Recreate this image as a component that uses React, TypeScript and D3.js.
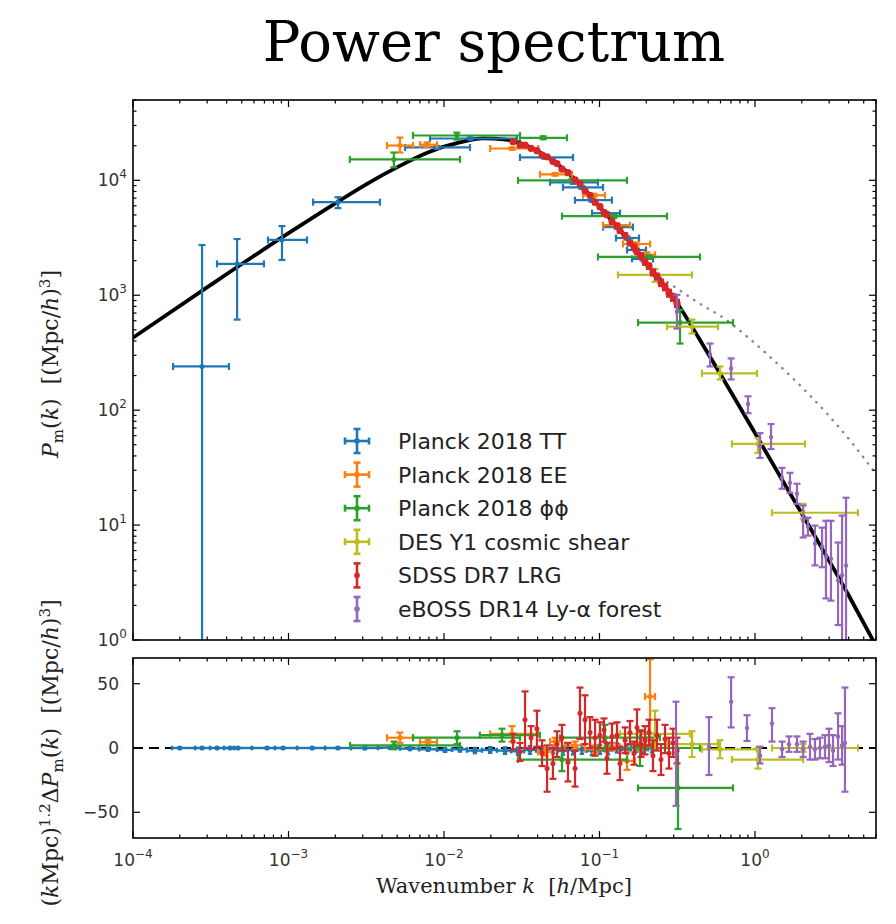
import React from "react";
import * as d3 from "d3";

// ================= data =================
// theory curve: linear matter power spectrum (k in h/Mpc, P in (Mpc/h)^3)
const curveK = [1e-4, 3.16e-4, 1e-3, 2e-3, 3.16e-3, 5.01e-3, 7.94e-3, 1.26e-2, 1.78e-2, 2.51e-2, 3.55e-2, 5.01e-2, 7.08e-2, 0.1, 0.141, 0.2, 0.316, 0.5, 1, 2, 4, 6];
const curveP = [427, 1230, 3467, 6310, 9230, 13030, 17580, 21380, 23170, 22650, 19500, 14790, 10000, 5890, 3467, 1905, 851, 309, 63.1, 12.6, 2.45, 0.89];
// non-linear curve (dotted grey)
const nonlinK = [0.2239, 0.2838, 0.4426, 0.631, 0.889, 1.259, 1.754, 2.904, 4.266, 6.03];
const nonlinP = [1549, 1259, 843, 631, 437, 288, 189, 93.3, 50.8, 27.5];

// [k, kLo, kHi, P, PLo, PHi]
const planckTT = [
  [2.78e-4, 1.81e-4, 4.14e-4, 240, 0.5, 2735],
  [4.67e-4, 3.47e-4, 6.95e-4, 1875, 614, 3085],
  [9.08e-4, 7.38e-4, 1.315e-3, 3027, 2028, 4000],
  [2.08e-3, 1.44e-3, 3.87e-3, 6457, 5728, 7129],
  [9.02e-3, 5.61e-3, 1.47e-2, 19320, 18750, 19900],
  [1.47e-2, 8.13e-3, 2.94e-2, 23120, 22650, 23600],
  [4.47e-2, 3.08e-2, 6.76e-2, 15810, 15400, 16230],
  [6.76e-2, 4.81e-2, 9.77e-2, 9616, 9330, 9900],
  [7.71e-2, 5.82e-2, 0.1054, 8690, 8430, 8950],
  [8.95e-2, 6.95e-2, 0.1202, 6714, 6510, 6920],
  [0.1084, 8.95e-2, 0.1355, 5176, 5020, 5330],
  [0.1297, 0.1054, 0.1641, 3917, 3800, 4035],
  [0.1503, 0.1276, 0.1795, 3148, 3050, 3245],
  [0.1718, 0.1503, 0.1991, 2477, 2400, 2555],
  [0.1905, 0.1618, 0.2208, 2070, 2005, 2135],
];
const planckEE = [
  [5.21e-3, 4.30e-3, 6.32e-3, 20090, 17460, 23550],
  [7.78e-3, 7.02e-3, 9.02e-3, 20420, 19500, 21400],
  [2.74e-2, 1.98e-2, 4.03e-2, 18920, 18500, 19350],
  [5.18e-2, 4.14e-2, 6.65e-2, 11270, 10980, 11560],
  [9.23e-2, 7.83e-2, 0.1084, 7413, 7200, 7630],
  [0.1297, 0.1054, 0.157, 4074, 3950, 4200],
  [0.1718, 0.1416, 0.2113, 2793, 2700, 2890],
  [0.2023, 0.182, 0.2275, 2244, 2130, 2360],
];
const planckPhi = [
  [4.76e-3, 2.48e-3, 1.267e-2, 15210, 12970, 17460],
  [1.21e-2, 6.32e-3, 3.08e-2, 24550, 22650, 26000],
  [4.34e-2, 3.08e-2, 6.18e-2, 23440, 22750, 24150],
  [6.65e-2, 2.99e-2, 0.1503, 10000, 9700, 10300],
  [0.1239, 5.74e-2, 0.2716, 4875, 4730, 5020],
  [0.208, 9.77e-2, 0.4426, 2153, 2090, 2220],
  [0.3296, 0.177, 0.7222, 578, 380, 748],
];
const desY1 = [
  [0.2275, 0.1315, 0.3936, 1503, 1309, 1694],
  [0.3936, 0.2716, 0.578, 533, 465, 614],
  [0.5957, 0.456, 1.03, 209, 185, 240],
  [1.045, 0.711, 2.097, 50.8, 42.5, 57.3],
  [2.04, 1.286, 4.59, 12.8, 11.4, 15.3],
];
// [k, P, PLo, PHi]
const ebossLya = [
  [0.3148, 719, 513, 1009],
  [0.514, 305, 240, 380],
  [0.702, 231, 185, 282],
  [0.902, 113, 94.2, 132],
  [1.077, 48.8, 38.4, 63.1],
  [1.268, 58.3, 45.9, 75.7],
  [1.493, 25.8, 20.7, 31.5],
  [1.679, 23.3, 19.1, 28.5],
  [1.862, 18.75, 15.3, 22.9],
  [2.04, 10.9, 7.8, 14.8],
  [2.19, 9.7, 8.1, 11.6],
  [2.43, 6.9, 4.46, 9.9],
  [2.70, 6.5, 4.3, 9.5],
  [2.86, 5.3, 2.3, 10.9],
  [3.08, 5.1, 2.2, 10.9],
  [3.42, 3.3, 1.35, 7.05],
  [3.63, 3.66, 0.95, 12.1],
  [3.85, 4.46, 0.5, 17.3],
];
const sdssK = [0.0278, 0.0308, 0.0332, 0.0363, 0.0396, 0.0427, 0.0460, 0.0502, 0.0533, 0.0574, 0.0627, 0.0696, 0.0749, 0.0807, 0.0869, 0.0936, 0.1007, 0.1069, 0.1117, 0.1203, 0.1296, 0.1354, 0.1459, 0.1571, 0.1667, 0.1742, 0.1849, 0.1962, 0.2081, 0.2208, 0.2343, 0.2486, 0.2638, 0.2798, 0.2970, 0.3151];
const sdssP = [21700, 20300, 20300, 19000, 18100, 16600, 16000, 14600, 14000, 12500, 11650, 10100, 9300, 8100, 7400, 6450, 5900, 5250, 5030, 4390, 4010, 3650, 3320, 2860, 2630, 2390, 2200, 1945, 1790, 1580, 1455, 1285, 1180, 1045, 960, 850];
const sdssPErr = [0.02, 0.02, 0.02, 0.02, 0.02, 0.02, 0.025, 0.025, 0.025, 0.025, 0.03, 0.03, 0.03, 0.03, 0.03, 0.035, 0.035, 0.035, 0.035, 0.04, 0.04, 0.04, 0.04, 0.045, 0.045, 0.045, 0.05, 0.05, 0.05, 0.055, 0.055, 0.06, 0.06, 0.065, 0.065, 0.07];

// ---- residual panel: (k Mpc)^1.2 ΔP ----
const ttResK = [2.0e-4, 2.78e-4, 3.47e-4, 4.21e-4, 4.73e-4, 7.27e-4, 9.22e-4, 1.42e-3, 2.08e-3, 3.10e-3, 4.50e-3, 6.04e-3, 7.89e-3, 1.015e-2, 1.267e-2, 1.58e-2, 1.98e-2, 2.47e-2, 2.99e-2, 3.57e-2, 4.27e-2, 5.02e-2, 5.82e-2, 6.76e-2, 7.71e-2, 8.95e-2, 0.1007, 0.1134, 0.1296, 0.1503, 0.1718, 0.1905, 0.2177];
const ttResEdges = [1.78e-4, 2.51e-4, 3.13e-4, 3.85e-4, 4.46e-4, 5.82e-4, 8.19e-4, 1.135e-3, 1.718e-3, 2.52e-3, 3.76e-3, 5.21e-3, 6.91e-3, 9.02e-3, 1.126e-2, 1.406e-2, 1.755e-2, 2.19e-2, 2.70e-2, 3.27e-2, 3.91e-2, 4.60e-2, 5.41e-2, 6.27e-2, 7.17e-2, 8.31e-2, 9.49e-2, 0.1069, 0.1203, 0.1395, 0.1594, 0.1822, 0.2051, 0.2308];
const ttResR = [0, 0, 0, 0, 0, 0, 0, 0, 0, 0, 0.3, -0.5, -1, -1.5, -1, -2, -1.5, -2, -2.5, -1.5, -2, -1, -2, -1.5, -1, -2, -1, -1.5, 0, -1, 0.5, -1, 0];
const ttResErr = [0.4, 0.4, 0.4, 0.4, 0.5, 0.5, 0.5, 0.6, 0.6, 0.8, 0.8, 1, 1.2, 1.5, 1.8, 2, 2.2, 2.5, 2.8, 3, 3, 3.2, 3.2, 3.5, 3.5, 3.5, 3.5, 3.5, 3.5, 3.5, 3.5, 3.5, 3.5];
// [k, kLo, kHi, r, errLo, errHi]
const eeRes = [
  [5.21e-3, 4.30e-3, 6.32e-3, 8, 4, 4],
  [7.89e-3, 7.02e-3, 9.02e-3, 4.5, 2, 2],
  [2.74e-2, 1.98e-2, 4.02e-2, 11, 6, 6],
  [4.46e-2, 4.02e-2, 4.95e-2, -3, 3, 3],
  [5.18e-2, 4.81e-2, 5.74e-2, 5, 3, 3],
  [6.96e-2, 6.00e-2, 8.07e-2, 2, 3, 3],
  [9.36e-2, 8.07e-2, 0.1085, -1, 3, 3],
  [0.1203, 0.1085, 0.1354, 1, 3, 3],
  [0.1503, 0.1354, 0.1692, -10, 7, 7],
  [0.1822, 0.1667, 0.1991, 3, 5, 5],
  [0.2113, 0.1962, 0.2275, 40, 38, 29],
];
const phiRes = [
  [4.77e-3, 2.49e-3, 1.267e-2, 2, 3, 3],
  [1.213e-2, 6.32e-3, 3.08e-2, 8, 5, 5],
  [2.36e-2, 1.70e-2, 4.14e-2, 10, 5, 5],
  [5.74e-2, 2.99e-2, 0.1503, -9, 9, 9],
  [0.1085, 5.57e-2, 0.245, 8, 10, 10],
  [0.1822, 9.77e-2, 0.4426, 0, 14, 14],
  [0.3198, 0.1769, 0.7222, -31, 32, 31],
];
const desRes = [
  [0.2275, 0.1355, 0.382, 11, 12, 18],
  [0.3936, 0.2716, 0.578, 3, 10, 10],
  [0.5957, 0.456, 1.03, -1, 7, 7],
  [1.045, 0.711, 2.04, -9, 7, 9],
  [2.04, 1.286, 4.59, 0, 3, 3],
];
const sdssResR = [5, -3, 22, 8, 15, -4, -16, -12, 3, 8, -11, -16, 27, 22, 12, 8, 10, 14, -8, 9, 10, -12, 6, 12, -4, 16, 3, 6, 12, -6, 10, -9, 7, -4, 4, -2];
const sdssResErr = [6, 7, 22, 9, 14, 10, 18, 12, 10, 10, 15, 14, 20, 19, 12, 14, 10, 9, 12, 10, 10, 13, 10, 9, 9, 14, 10, 11, 10, 12, 12, 12, 11, 12, 11, 10];
// [k, r, errLo, errHi]
const ebossRes = [
  [0.3105, -4, 41, 40],
  [0.5058, 1, 22, 23],
  [0.702, 36, 20, 19],
  [0.888, 15.5, 10, 10],
  [1.077, -6, 6, 7],
  [1.286, 19, 14, 12],
  [1.493, -1, 6, 6],
  [1.654, 3, 6, 6],
  [1.862, 3, 6, 6],
  [2.04, -1, 6, 6],
  [2.258, 1, 10, 10],
  [2.43, -1, 8, 8],
  [2.618, 0, 8, 8],
  [2.818, 1, 9, 9],
  [2.99, 2, 13, 13],
  [3.175, -2, 12, 12],
  [3.42, 9, 18, 18],
  [3.63, 2, 15, 15],
  [3.79, 4, 38, 43],
];

const seriesLabels = ["Planck 2018 TT", "Planck 2018 EE", "Planck 2018 \u03d5\u03d5", "DES Y1 cosmic shear", "SDSS DR7 LRG", "eBOSS DR14 Ly-\u03b1 forest"];
const seriesColors = ["#1f77b4", "#ff7f0e", "#2ca02c", "#bcbd22", "#d62728", "#9467bd"];
const xTickExps = [-4, -3, -2, -1, 0];
const yTopExps = [0, 1, 2, 3, 4];
const yResTicks = [-50, 0, 50];

// ================= layout =================
const W = 896, H = 924;
const L = 133, R = 876, T1 = 100, B1 = 640, T2 = 658, B2 = 838;
const SANS = "'DejaVu Sans', sans-serif";
const SERIF = "'DejaVu Serif', serif";

function EB({ px, py, x0, x1, y0, y1, color, cap = 3.5, lw = 2.2, r = 2.5 }: any) {
  return (
    <g stroke={color} strokeWidth={lw} fill={color}>
      {x0 != null && (
        <>
          <line x1={x0} x2={x1} y1={py} y2={py} />
          <line x1={x0} x2={x0} y1={py - cap} y2={py + cap} />
          <line x1={x1} x2={x1} y1={py - cap} y2={py + cap} />
        </>
      )}
      {y0 != null && (
        <>
          <line x1={px} x2={px} y1={y0} y2={y1} />
          <line x1={px - cap} x2={px + cap} y1={y0} y2={y0} />
          <line x1={px - cap} x2={px + cap} y1={y1} y2={y1} />
        </>
      )}
      {r > 0 && <circle cx={px} cy={py} r={r} stroke="none" />}
    </g>
  );
}

function isMajorLog(v: number) {
  const l = Math.log10(v);
  return Math.abs(l - Math.round(l)) < 1e-6;
}

export default function App() {
  const x = d3.scaleLog().domain([1e-4, 6]).range([L, R]);
  const y = d3.scaleLog().domain([1, 5e4]).range([B1, T1]);
  const yr = d3.scaleLinear().domain([-70, 70]).range([B2, T2]);

  const line = d3
    .line<number[]>()
    .x((d) => x(d[0]))
    .y((d) => y(d[1]))
    .curve(d3.curveMonotoneX);
  const curvePath = line(curveK.map((k, i) => [k, curveP[i]])) || "";
  const nonlinPath = line(nonlinK.map((k, i) => [k, nonlinP[i]])) || "";

  const xTicks = x.ticks().filter((v) => v >= 1e-4 && v <= 6);
  const yTicks = y.ticks().filter((v) => v >= 1 && v <= 5e4);

  const topSeries = [planckTT, planckEE, planckPhi, desY1];
  const resSeries = [eeRes, phiRes, desRes];

  const xTickMarks = (top: number, bottom: number) =>
    xTicks.map((v, i) => {
      const len = isMajorLog(v) ? 7 : 3.5;
      const px = x(v);
      return (
        <g key={i} stroke="#000" strokeWidth={1.2}>
          <line x1={px} x2={px} y1={bottom} y2={bottom - len} />
          <line x1={px} x2={px} y1={top} y2={top + len} />
        </g>
      );
    });

  return (
    <svg
      width={W}
      height={H}
      viewBox={`0 0 ${W} ${H}`}
      style={{ position: "absolute", left: 0, top: 0, background: "#fff" }}
    >
      <defs>
        <clipPath id="clipTop">
          <rect x={L} y={T1} width={R - L} height={B1 - T1} />
        </clipPath>
        <clipPath id="clipRes">
          <rect x={L} y={T2} width={R - L} height={B2 - T2} />
        </clipPath>
      </defs>
      <rect x={0} y={0} width={W} height={H} fill="#fff" />

      {/* Title */}
      <text x={494} y={61} textAnchor="middle" fontFamily={SERIF} fontSize={56} fill="#000">
        Power spectrum
      </text>

      {/* ============ top panel ============ */}
      <g clipPath="url(#clipTop)">
        <path d={nonlinPath} fill="none" stroke="#888" strokeWidth={2.4} strokeDasharray="0.5 7.5" strokeLinecap="round" />
        <path d={curvePath} fill="none" stroke="#000" strokeWidth={3.8} />
        {topSeries.map((s, si) =>
          s.map((d, i) => (
            <EB
              key={`t${si}-${i}`}
              px={x(d[0])}
              py={y(d[3])}
              x0={x(d[1])}
              x1={x(d[2])}
              y0={y(d[4])}
              y1={y(d[5])}
              color={seriesColors[si]}
            />
          ))
        )}
        {sdssK.map((k, i) => (
          <EB
            key={`sd${i}`}
            px={x(k)}
            py={y(sdssP[i])}
            y0={y(sdssP[i] * (1 - sdssPErr[i]))}
            y1={y(sdssP[i] * (1 + sdssPErr[i]))}
            color={seriesColors[4]}
            cap={3}
            lw={2.6}
            r={3.6}
          />
        ))}
        {ebossLya.map((d, i) => (
          <EB
            key={`eb${i}`}
            px={x(d[0])}
            py={y(d[1])}
            y0={y(d[2])}
            y1={y(d[3])}
            color={seriesColors[5]}
            r={2.2}
          />
        ))}
      </g>

      {/* top panel axes */}
      <rect x={L} y={T1} width={R - L} height={B1 - T1} fill="none" stroke="#000" strokeWidth={1.6} />
      {xTickMarks(T1, B1)}
      {yTicks.map((v, i) => {
        const len = isMajorLog(v) ? 7 : 3.5;
        const py = y(v);
        return (
          <g key={`yt${i}`} stroke="#000" strokeWidth={1.2}>
            <line x1={L} x2={L + len} y1={py} y2={py} />
            <line x1={R} x2={R - len} y1={py} y2={py} />
          </g>
        );
      })}
      {yTopExps.map((e) => (
        <text key={`yl${e}`} x={127} y={y(Math.pow(10, e)) + 6} textAnchor="end" fontFamily={SANS} fontSize={17} fill="#333">
          10
          <tspan dy={-8} fontSize={12}>
            {String(e)}
          </tspan>
        </text>
      ))}

      {/* legend */}
      {seriesLabels.map((lab, i) => {
        const cy = 441 + i * 33.6;
        const cx = 357;
        const cross = i < 4;
        return (
          <g key={`lg${i}`}>
            <EB
              px={cx}
              py={cy}
              x0={cross ? cx - 12 : undefined}
              x1={cross ? cx + 12 : undefined}
              y0={cy - 12}
              y1={cy + 12}
              color={seriesColors[i]}
              r={2.8}
              cap={3.5}
              lw={2.6}
            />
            <text x={398} y={cy + 8} fontFamily={SANS} fontSize={22} fill="#222">
              {lab}
            </text>
          </g>
        );
      })}

      {/* top y label */}
      <text transform="translate(58,364) rotate(-90)" textAnchor="middle" fontFamily={SERIF} fontSize={22} fill="#222">
        <tspan fontStyle="italic">P</tspan>
        <tspan fontSize={15} dy={5}>m</tspan>
        <tspan dy={-5}>(</tspan>
        <tspan fontStyle="italic">k</tspan>
        <tspan>{")\u00a0\u00a0[(Mpc/"}</tspan>
        <tspan fontStyle="italic">h</tspan>
        <tspan>)</tspan>
        <tspan fontSize={15} dy={-8}>3</tspan>
        <tspan dy={8}>]</tspan>
      </text>

      {/* ============ residual panel ============ */}
      <g clipPath="url(#clipRes)">
        <line x1={L} x2={R} y1={yr(0)} y2={yr(0)} stroke="#000" strokeWidth={2} strokeDasharray="10 6" />
        {ttResK.map((k, i) => (
          <EB
            key={`tr${i}`}
            px={x(k)}
            py={yr(ttResR[i])}
            x0={x(ttResEdges[i])}
            x1={x(ttResEdges[i + 1])}
            y0={yr(ttResR[i] - ttResErr[i])}
            y1={yr(ttResR[i] + ttResErr[i])}
            color={seriesColors[0]}
            cap={2.2}
            lw={2.4}
            r={2.6}
          />
        ))}
        {resSeries.map((s, si) =>
          s.map((d, i) => (
            <EB
              key={`r${si}-${i}`}
              px={x(d[0])}
              py={yr(d[3])}
              x0={x(d[1])}
              x1={x(d[2])}
              y0={yr(d[3] - d[4])}
              y1={yr(d[3] + d[5])}
              color={seriesColors[si + 1]}
              r={2.6}
            />
          ))
        )}
        {sdssK.map((k, i) => (
          <EB
            key={`sr${i}`}
            px={x(k)}
            py={yr(sdssResR[i])}
            y0={yr(sdssResR[i] - sdssResErr[i])}
            y1={yr(sdssResR[i] + sdssResErr[i])}
            color={seriesColors[4]}
            r={2.5}
          />
        ))}
        {ebossRes.map((d, i) => (
          <EB
            key={`er${i}`}
            px={x(d[0])}
            py={yr(d[1])}
            y0={yr(d[1] - d[2])}
            y1={yr(d[1] + d[3])}
            color={seriesColors[5]}
            r={2.2}
          />
        ))}
      </g>

      <rect x={L} y={T2} width={R - L} height={B2 - T2} fill="none" stroke="#000" strokeWidth={1.6} />
      {xTickMarks(T2, B2)}
      {yResTicks.map((v) => (
        <g key={`rt${v}`}>
          <line x1={L} x2={L + 7} y1={yr(v)} y2={yr(v)} stroke="#000" strokeWidth={1.2} />
          <line x1={R} x2={R - 7} y1={yr(v)} y2={yr(v)} stroke="#000" strokeWidth={1.2} />
          <text x={119} y={yr(v) + 6} textAnchor="end" fontFamily={SANS} fontSize={17} fill="#333">
            {v < 0 ? `\u2212${Math.abs(v)}` : String(v)}
          </text>
        </g>
      ))}
      {xTickExps.map((e) => (
        <text key={`xl${e}`} x={x(Math.pow(10, e))} y={866} textAnchor="middle" fontFamily={SANS} fontSize={17} fill="#333">
          10
          <tspan dy={-8} fontSize={12}>
            {e < 0 ? `\u2212${Math.abs(e)}` : String(e)}
          </tspan>
        </text>
      ))}

      {/* residual y label */}
      <text transform="translate(58,753) rotate(-90)" textAnchor="middle" fontFamily={SERIF} fontSize={22} fill="#222">
        <tspan>(</tspan>
        <tspan fontStyle="italic">k</tspan>
        <tspan>Mpc)</tspan>
        <tspan fontSize={15} dy={-8}>1.2</tspan>
        <tspan dy={8}>{"\u0394"}</tspan>
        <tspan fontStyle="italic">P</tspan>
        <tspan fontSize={15} dy={5}>m</tspan>
        <tspan dy={-5}>(</tspan>
        <tspan fontStyle="italic">k</tspan>
        <tspan>{")\u00a0\u00a0[(Mpc/"}</tspan>
        <tspan fontStyle="italic">h</tspan>
        <tspan>)</tspan>
        <tspan fontSize={15} dy={-8}>3</tspan>
        <tspan dy={8}>]</tspan>
      </text>

      {/* x label */}
      <text x={504} y={893} textAnchor="middle" fontFamily={SERIF} fontSize={21} fill="#222">
        <tspan>{"Wavenumber "}</tspan>
        <tspan fontStyle="italic">k</tspan>
        <tspan>{"\u00a0\u00a0["}</tspan>
        <tspan fontStyle="italic">h</tspan>
        <tspan>/Mpc]</tspan>
      </text>
    </svg>
  );
}
